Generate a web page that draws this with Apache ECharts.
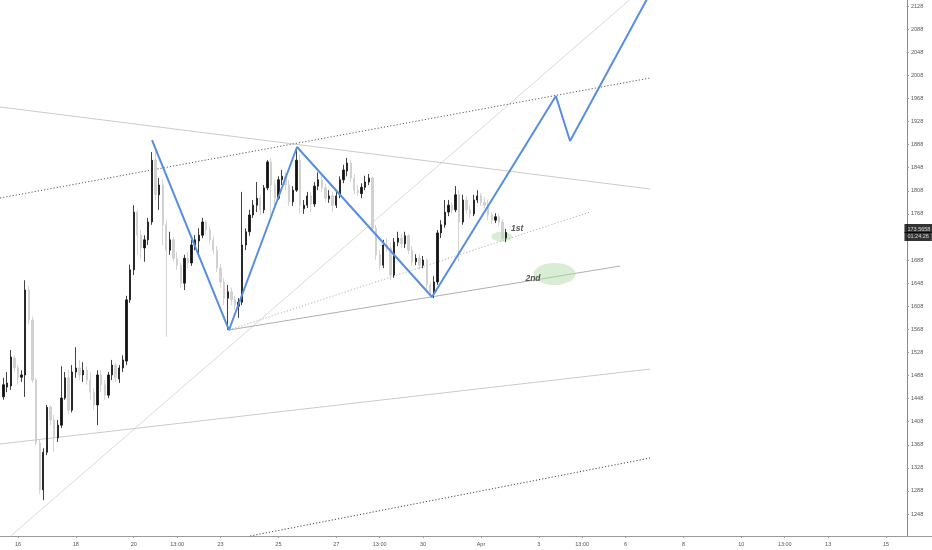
<!DOCTYPE html>
<html>
<head>
<meta charset="utf-8">
<script src="https://cdn.jsdelivr.net/npm/echarts@6/dist/echarts.min.js"></script>
<style>
html,body{margin:0;padding:0;background:#fff;}
#chart{width:932px;height:550px;}
</style>
</head>
<body>
<div id="chart"></div>
<script>
// ---- data (x in days from Mar 16 00:00, prices in USD) ----
const candleStartDay = -0.5;   // first 3h candle: Mar 15 12:00
const candleStepDay = 0.125;   // 3h candles
// [open, close, low, high]
const candles = [
[1451,1472,1446,1484],[1468,1475,1459,1494],[1470,1520,1463,1532],[1518,1501,1494,1523],
[1501,1485,1472,1506],[1485,1489,1477,1497],[1489,1636,1451,1653],[1636,1584,1577,1643],
[1584,1480,1475,1590],[1480,1371,1367,1484],[1371,1290,1283,1378],[1290,1355,1272,1362],
[1355,1433,1350,1437],[1433,1411,1402,1437],[1411,1380,1355,1420],[1380,1402,1373,1411],
[1402,1449,1397,1504],[1449,1484,1446,1494],[1484,1428,1421,1497],[1428,1494,1424,1506],
[1494,1501,1484,1537],[1501,1489,1480,1515],[1489,1497,1477,1511],[1497,1480,1472,1504],
[1480,1459,1446,1494],[1459,1437,1428,1466],[1437,1489,1402,1497],[1489,1472,1459,1497],
[1472,1454,1446,1480],[1454,1489,1449,1494],[1489,1506,1480,1515],[1506,1484,1477,1511],
[1482,1501,1475,1506],[1501,1515,1494,1523],[1513,1619,1506,1626],[1619,1671,1614,1680],
[1671,1771,1662,1783],[1771,1731,1697,1775],[1731,1709,1691,1740],[1709,1723,1685,1731],
[1723,1754,1714,1761],[1754,1861,1749,1875],[1861,1801,1792,1879],[1801,1818,1775,1830],
[1818,1749,1714,1827],[1749,1705,1555,1757],[1705,1723,1697,1737],[1723,1691,1685,1728],
[1691,1679,1671,1702],[1679,1648,1640,1684],[1648,1691,1636,1697],[1691,1683,1674,1702],
[1683,1714,1678,1723],[1714,1723,1705,1731],[1721,1731,1697,1743],[1731,1754,1726,1761],
[1754,1740,1731,1757],[1740,1723,1716,1747],[1723,1705,1698,1730],[1705,1674,1667,1712],
[1674,1650,1640,1681],[1650,1622,1610,1657],[1622,1633,1567,1645],[1633,1619,1610,1640],
[1619,1610,1601,1626],[1608,1615,1588,1622],[1615,1714,1610,1806],[1714,1737,1705,1743],
[1737,1766,1730,1775],[1766,1783,1761,1792],[1783,1795,1771,1823],[1795,1775,1766,1801],
[1775,1813,1769,1818],[1813,1858,1809,1861],[1858,1818,1766,1865],[1818,1795,1783,1827],
[1795,1827,1792,1833],[1827,1833,1818,1844],[1833,1818,1809,1840],[1818,1789,1782,1827],
[1789,1809,1782,1816],[1809,1861,1806,1879],[1861,1783,1769,1870],[1777,1783,1768,1792],
[1783,1799,1778,1806],[1799,1785,1771,1806],[1785,1816,1780,1823],[1816,1827,1809,1840],
[1827,1813,1806,1834],[1813,1795,1789,1820],[1794,1799,1787,1809],[1799,1783,1771,1806],
[1783,1799,1778,1806],[1799,1827,1795,1833],[1827,1844,1821,1853],[1842,1856,1833,1865],
[1856,1830,1823,1861],[1830,1809,1802,1837],[1809,1805,1799,1818],[1803,1814,1795,1821],
[1814,1823,1809,1834],[1823,1830,1818,1837],[1830,1743,1737,1833],[1743,1697,1688,1749],
[1697,1679,1671,1705],[1679,1714,1674,1723],[1714,1709,1702,1726],[1709,1662,1653,1719],
[1662,1719,1657,1726],[1719,1726,1712,1737],[1726,1716,1709,1733],[1716,1730,1709,1737],
[1730,1705,1698,1733],[1705,1685,1678,1712],[1685,1691,1679,1698],[1691,1679,1671,1698],
[1679,1688,1674,1695],[1688,1645,1636,1691],[1645,1633,1624,1650],[1633,1650,1622,1660],
[1650,1735,1645,1740],[1735,1749,1726,1757],[1749,1771,1744,1792],[1771,1783,1764,1792],
[1783,1775,1768,1788],[1775,1801,1771,1816],[1801,1754,1685,1809],[1754,1792,1749,1801],
[1792,1775,1768,1799],[1775,1768,1761,1783],[1768,1792,1764,1801],[1792,1799,1787,1809],
[1799,1788,1782,1804],[1788,1783,1778,1797],[1783,1766,1757,1792],[1766,1757,1750,1771],
[1757,1763,1752,1769],[1763,1754,1747,1768],[1754,1726,1723,1759],[1726,1735.658,1719,1742]
];
const lastPrice = 1735.658;
const lastPriceText = '173.5658';
const countdownText = '01:24:26';

// x-axis tick positions (days) and their labels
const xTickDays   = [0, 2, 4, 5.5, 7, 9, 11, 12.5, 14, 16, 18, 19.5, 21, 23, 25, 26.5, 28, 30];
const xTickLabels = ['16','18','20','13:00','23','25','27','13:00','30','Apr','3','13:00','6','8','10','13:00','13','15'];
// y-axis tick values
const yTicks = [1248,1288,1328,1368,1408,1448,1488,1528,1568,1608,1648,1688,1768,1808,1848,1888,1928,1968,2008,2048,2088,2128];

// drawings: [day, price] endpoints
const zigzag = [[4.632,1895.9],[7.293,1566.8],[9.644,1883.8],[14.31,1623.9],[18.59,1972.1],[19.08,1894.2],[21.91,2155.7]];
const upperResistance = [[-0.622,1953.1],[21.85,1811.0]];
const upperChannelDotted = [[-0.622,1795.4],[21.85,2003.3]];
const lowDottedTrend = [[7.293,1566.8],[19.77,1771.2]];
const lowSolidTrend = [[7.293,1566.8],[20.81,1677.6]];
const longDiagonal = [[-0.252,1210.0],[21.29,2145.3]];
const lowerChannel = [[-0.622,1369.3],[21.85,1499.2]];
const bottomDotted = [[8.02,1210.0],[21.85,1345.1]];
const zones = [
  {name:'1st', center:[16.72,1728.4], size:[21,10]},
  {name:'2nd', center:[18.545,1663.8], size:[42,22]}
];
const zoneLabels = [
  {name:'1st', pos:[17.25,1742.6]},
  {name:'2nd', pos:[17.80,1656.0]}
];
const xMin = -0.622, xMax = 31.59, yMin = 1210.0, yMax = 2138.4;
const priceLabelDay = 30.62;

// ---- chart ----
const chart = echarts.init(document.getElementById('chart'), null, {renderer:'canvas'});
const labelMap = {};
xTickDays.forEach((d,i)=>{ labelMap[d] = xTickLabels[i]; });

const candleData = candles.map((c,i)=>[candleStartDay + i*candleStepDay, c[0], c[1], c[2], c[3]]);

function lineSeries(data, color, type, width, z){
  return {type:'line', data:data, showSymbol:false, symbol:'none', silent:true,
    lineStyle:{color:color, width:width, type:type}, z:z||3, animation:false, clip:true};
}

const font = 'Liberation Sans, Arial, sans-serif';

chart.setOption({
  animation:false,
  backgroundColor:'#ffffff',
  grid:{left:0, right:0, top:0, bottom:14, containLabel:false, outerBoundsMode:'none'},
  xAxis:{
    type:'value', min:xMin, max:xMax,
    axisLine:{show:true, onZero:false, lineStyle:{color:'#9a9a9a', width:1}},
    axisTick:{show:true, length:2, customValues:xTickDays, lineStyle:{color:'#9a9a9a'}},
    axisLabel:{show:true, customValues:xTickDays, fontSize:5.5, color:'#555', margin:5, fontFamily:font,
      formatter:(v)=> labelMap[v] !== undefined ? labelMap[v] : ''},
    splitLine:{show:false}
  },
  yAxis:{
    type:'value', position:'right', offset:-25, min:yMin, max:yMax,
    axisLine:{show:true, onZero:false, lineStyle:{color:'#8a8a8a', width:1}},
    axisTick:{show:true, length:2, customValues:yTicks, lineStyle:{color:'#9a9a9a'}},
    axisLabel:{show:true, customValues:yTicks, fontSize:5.5, color:'#555', margin:4, fontFamily:font,
      formatter:(v)=> String(v)},
    splitLine:{show:false}
  },
  series:[
    lineSeries(longDiagonal, '#cfcfcf', 'solid', 0.8, 1),
    lineSeries(upperResistance, '#bdbdbd', 'solid', 0.8, 1),
    lineSeries(lowerChannel, '#bcbcbc', 'solid', 0.8, 1),
    lineSeries(upperChannelDotted, '#5a5a5a', [1.2,2], 1, 1),
    lineSeries(bottomDotted, '#444444', [1.2,2], 1, 1),
    lineSeries(lowDottedTrend, '#a8a8a8', [1.2,2], 0.9, 1),
    lineSeries(lowSolidTrend, '#9a9a9a', 'solid', 0.8, 1),
    {
      type:'scatter', silent:true, z:2,
      data: zones.map(z=>({name:z.name, value:z.center, symbolSize:z.size})),
      symbol:'circle',
      itemStyle:{color:'rgba(176,218,166,0.6)'}
    },
    {
      type:'candlestick', z:4, barWidth:1.8, silent:true,
      data:candleData,
      encode:{x:0, y:[1,2,3,4]},
      itemStyle:{color:'#111111', color0:'#d3d3d3', borderColor:'#111111', borderColor0:'#cacaca', borderWidth:0.8}
    },
    lineSeries(zigzag, '#578ee0', 'solid', 2, 5),
    {
      type:'scatter', silent:true, z:6, symbolSize:1,
      itemStyle:{color:'rgba(0,0,0,0)'},
      data: zoneLabels.map(l=>({name:l.name, value:l.pos})),
      label:{show:true, position:'inside', formatter:(p)=>p.name, color:'#2a2a2a',
        fontSize:8.5, fontStyle:'italic', fontWeight:'bold', fontFamily:font}
    },
    {
      type:'scatter', silent:true, z:10, symbolSize:1, clip:false,
      itemStyle:{color:'rgba(0,0,0,0)'},
      data:[{name:'price', value:[priceLabelDay, lastPrice]}],
      label:{show:true, position:'right', distance:0,
        formatter:'{a|' + lastPriceText + '}\n{b|' + countdownText + '}',
        rich:{
          a:{color:'#ffffff', backgroundColor:'#000000', fontSize:5.5, fontFamily:font, padding:[2,3,1,3], lineHeight:8},
          b:{color:'#ffffff', backgroundColor:'#000000', fontSize:5.5, fontFamily:font, padding:[1,3,2,3], lineHeight:8}
        }}
    }
  ]
});
</script>
</body>
</html>
